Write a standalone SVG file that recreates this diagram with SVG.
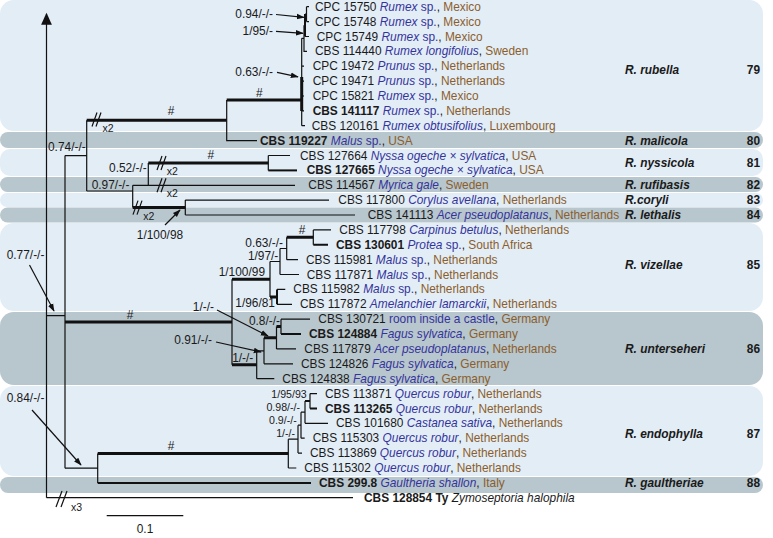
<svg xmlns="http://www.w3.org/2000/svg" width="773" height="538" viewBox="0 0 773 538">
<style>
text{font-family:"Liberation Sans",Arial,sans-serif;font-size:11.9px;fill:#1a1a1a}
.h{fill:#34349c;font-style:italic}
.hn{fill:#34349c}
.c{fill:#8b5e2c}
.b{font-weight:bold}
.z{font-style:italic}
.sp{font-weight:bold;font-style:italic}
.num{font-weight:bold;text-anchor:end}
.sm{font-size:10.5px}
.e{text-anchor:end}
.m{text-anchor:middle}
.tight{font-size:10.6px}
.bl{fill:#e3edf6}
.bd{fill:#b8c6cd}
.thin{fill:none;stroke:#111;stroke-width:1.2}
.med{fill:none;stroke:#111;stroke-width:2}
.thk{fill:none;stroke:#111;stroke-width:3}
.arr{fill:none;stroke:#111;stroke-width:1.2;marker-end:url(#ah)}
</style>
<defs>
<marker id="ah" viewBox="0 0 10 10" refX="9" refY="5" markerWidth="8" markerHeight="8" orient="auto" markerUnits="userSpaceOnUse"><path d="M0,1.5 L10,5 L0,8.5 z" fill="#111"/></marker>
<marker id="axh" viewBox="0 0 10 10" refX="9" refY="5" markerWidth="14" markerHeight="12" orient="auto" markerUnits="userSpaceOnUse"><path d="M0,0.5 L10,5 L0,9.5 z" fill="#111"/></marker>
</defs>
<g id="bands">
<rect class="bl" x="0" y="0" width="763" height="131" rx="14"/>
<rect class="bd" x="0" y="132" width="763" height="16" rx="8"/>
<rect class="bl" x="0" y="149" width="763" height="27" rx="10"/>
<rect class="bd" x="0" y="177" width="763" height="15" rx="7.5"/>
<rect class="bl" x="0" y="193" width="763" height="14" rx="7"/>
<rect class="bd" x="0" y="207.5" width="763" height="15" rx="7.5"/>
<rect class="bl" x="0" y="223" width="763" height="88" rx="14"/>
<rect class="bd" x="0" y="312" width="763" height="73" rx="14"/>
<rect class="bl" x="0" y="386" width="763" height="90" rx="14"/>
<rect class="bd" x="0" y="477" width="763" height="16" rx="8"/>
</g>
<g id="connectors">
<path class="thin" d="M46.5 497.7 V14" style="marker-end:url(#axh)"/>
<path class="thin" d="M46.5 497.7 H353 M46.5 315.7 H65 M65 155.6 V468.2 M65 155.6 H86.7 M86.7 120.3 V191 M226.7 100 V140.6 H257"/>
<path class="thin" d="M301.7 38.3 V125.7 M301.7 66.2 H304 M301.7 81.1 H304 M301.7 96 H304 M301.7 110.9 H304 M301.7 125.7 H305 M301.7 38.3 H304 M304 25.3 V51.3 H307 M304 25.3 H305 M305 36.5 H309 M305 14.1 H306.5 M306.5 6.7 V21.6 M306.5 6.7 H309 M306.5 21.6 H309"/>
<path class="thk" d="M301.7 77 V111"/>
<path class="med" d="M305 14.1 V36.5"/>
<path class="thk" d="M86.7 120.3 H226.7 M226.7 100 H301.7"/>
<path class="thin" d="M86.7 191 H132.7 M132.7 185.3 V207.6 M132.7 185.3 H295 M148.3 162.9 V185.3 M268.3 155.5 V170.4 M268.3 155.5 H290 M185.3 200.1 V215 M185.3 200.1 H329 M185.3 215 H355"/>
<path class="med" d="M268.3 170.4 H297"/>
<path class="thk" d="M148.3 162.9 H268.3 M132.7 207.6 H185.3"/>
<path class="thk" d="M65 322 H232 M232 279.2 H270 M286.7 237.3 H313.3 M270 296.9 H277 M232 364.8 H256.7 M264 337.8 H276.5 M276.5 326.6 H281"/>
<path class="thin" d="M232 279.2 V364.8 M270 261.5 V296.9 M270 261.5 H280 M280 248.5 V274.5 M280 274.5 H299 M280 248.5 H286.7 M286.7 237.3 V259.7 M286.7 259.7 H298 M313.3 229.9 V244.8 M313.3 229.9 H331 M277 289.4 H285.3 M277 304.3 H292"/>
<path class="med" d="M313.3 244.8 H328 M277 289.4 V304.3 M281 334.1 H301"/>
<path class="thin" d="M256.7 350.8 V378.7 M256.7 378.7 H274.3 M256.7 350.8 H264 M264 337.8 V363.8 M264 363.8 H293 M276.5 326.6 V348.9 M276.5 348.9 H296 M281 319.2 V334.1 M281 319.2 H310"/>
<path class="thin" d="M310 393.6 V408.5 M310 393.6 H317 M305 401 V423.3 M305 423.3 H328 M301 412.2 H305 M301 412.2 V438.2 M301 438.2 H304.7 M298 425.2 H301 M298 425.2 V453.1 M298 453.1 H302 M288.3 439.2 H298 M288.3 439.2 V468 M288.3 468 H296.3 M97.7 453.6 V482.9 M65 468.2 H97.7"/>
<path class="med" d="M310 408.5 H317 M305 401 H310 M97.7 482.9 H311"/>
<path class="thk" d="M97.7 453.6 H288.3"/>
<path class="thin" d="M92 126.5 L97 112.5 M96 126.5 L101 112.5 M157 170 L162 156 M161 170 L166 156 M157 192.3 L162 178.3 M161 192.3 L166 178.3 M133 214.6 L138 200.6 M137 214.6 L142 200.6 M56 507 L62 491 M61 507 L67 491"/>
<path class="thin" d="M106.7 515.7 H183.3"/>
<path class="arr" d="M276 14.5 L304 17.3"/>
<path class="arr" d="M276 31.3 L303 33.3"/>
<path class="arr" d="M277 72.3 L298 76.8"/>
<path class="arr" d="M165 225 L180 210"/>
<path class="arr" d="M29.5 265 L54 311"/>
<path class="arr" d="M217 310 L268 336"/>
<path class="arr" d="M216 342 L261 352"/>
<path class="arr" d="M32 410 L81 465"/>
</g>
<g id="support-labels">
<text x="273" y="18" class="e">0.94/-/-</text>
<text x="273" y="34.5" class="e">1/95/-</text>
<text x="273" y="76" class="e">0.63/-/-</text>
<text x="48" y="151">0.74/-/-</text>
<text x="146.7" y="171.7" class="e">0.52/-/-</text>
<text x="91.7" y="189">0.97/-/-</text>
<text x="160" y="239" class="m">1/100/98</text>
<text x="283" y="246.7" class="e">0.63/-/-</text>
<text x="278.3" y="260" class="e">1/97/-</text>
<text x="265" y="276.3" class="e">1/100/99</text>
<text x="275" y="307" class="e">1/96/81</text>
<text x="6.7" y="259">0.77/-/-</text>
<text x="214" y="310.5" class="e">1/-/-</text>
<text x="280" y="325" class="e">0.8/-/-</text>
<text x="212" y="344" class="e">0.91/-/-</text>
<text x="253.3" y="361.5" class="e">1/-/-</text>
<text x="306.7" y="397.5" class="e tight">1/95/93</text>
<text x="300" y="410.5" class="e tight">0.98/-/-</text>
<text x="296.7" y="423.5" class="e tight">0.9/-/-</text>
<text x="295" y="436.5" class="e tight">1/-/-</text>
<text x="6.7" y="402">0.84/-/-</text>
<text x="171" y="115" class="m">#</text>
<text x="259.3" y="97" class="m">#</text>
<text x="210.7" y="159" class="m">#</text>
<text x="302" y="234" class="m">#</text>
<text x="130" y="318.5" class="m">#</text>
<text x="171" y="450" class="m">#</text>
<text x="102.5" y="131.5" class="sm">x2</text>
<text x="166.7" y="174.5" class="sm">x2</text>
<text x="166.7" y="196.5" class="sm">x2</text>
<text x="143.3" y="220" class="sm">x2</text>
<text x="71" y="511" class="sm">x3</text>
<text x="145" y="533" class="m">0.1</text>
</g>
<g id="leaf-CPC15750"><text x="315" y="10.7">CPC 15750 <tspan class="h">Rumex</tspan><tspan class="hn"> sp.</tspan>, <tspan class="c">Mexico</tspan></text></g>
<g id="leaf-CPC15748"><text x="315" y="25.6">CPC 15748 <tspan class="h">Rumex</tspan><tspan class="hn"> sp.</tspan>, <tspan class="c">Mexico</tspan></text></g>
<g id="leaf-CPC15749"><text x="316.7" y="40.5">CPC 15749 <tspan class="h">Rumex</tspan><tspan class="hn"> sp.</tspan>, <tspan class="c">Mexico</tspan></text></g>
<g id="leaf-CBS114440"><text x="315" y="55.3">CBS 114440 <tspan class="h">Rumex longifolius</tspan>, <tspan class="c">Sweden</tspan></text></g>
<g id="leaf-CPC19472"><text x="312.7" y="70.2">CPC 19472 <tspan class="h">Prunus</tspan><tspan class="hn"> sp.</tspan>, <tspan class="c">Netherlands</tspan></text></g>
<g id="leaf-CPC19471"><text x="312.7" y="85.1">CPC 19471 <tspan class="h">Prunus</tspan><tspan class="hn"> sp.</tspan>, <tspan class="c">Netherlands</tspan></text></g>
<g id="leaf-CPC15821"><text x="312.7" y="100">CPC 15821 <tspan class="h">Rumex</tspan><tspan class="hn"> sp.</tspan>, <tspan class="c">Mexico</tspan></text></g>
<g id="leaf-CBS141117"><text x="312.7" y="114.9"><tspan class="b">CBS 141117</tspan> <tspan class="h">Rumex</tspan><tspan class="hn"> sp.</tspan>, <tspan class="c">Netherlands</tspan></text></g>
<g id="leaf-CBS120161"><text x="311.7" y="129.7">CBS 120161 <tspan class="h">Rumex obtusifolius</tspan>, <tspan class="c">Luxembourg</tspan></text></g>
<g id="leaf-CBS119227"><text x="260" y="144.6"><tspan class="b">CBS 119227</tspan> <tspan class="h">Malus</tspan><tspan class="hn"> sp.</tspan>, <tspan class="c">USA</tspan></text></g>
<g id="leaf-CBS127664"><text x="300" y="159.5">CBS 127664 <tspan class="h">Nyssa ogeche × sylvatica</tspan>, <tspan class="c">USA</tspan></text></g>
<g id="leaf-CBS127665"><text x="306.7" y="174.4"><tspan class="b">CBS 127665</tspan> <tspan class="h">Nyssa ogeche × sylvatica</tspan>, <tspan class="c">USA</tspan></text></g>
<g id="leaf-CBS114567"><text x="308.3" y="189.3">CBS 114567 <tspan class="h">Myrica gale</tspan>, <tspan class="c">Sweden</tspan></text></g>
<g id="leaf-CBS117800"><text x="338.3" y="204.1">CBS 117800 <tspan class="h">Corylus avellana</tspan>, <tspan class="c">Netherlands</tspan></text></g>
<g id="leaf-CBS141113"><text x="367.7" y="219">CBS 141113 <tspan class="h">Acer pseudoplatanus</tspan>, <tspan class="c">Netherlands</tspan></text></g>
<g id="leaf-CBS117798"><text x="339.3" y="233.9">CBS 117798 <tspan class="h">Carpinus betulus</tspan>, <tspan class="c">Netherlands</tspan></text></g>
<g id="leaf-CBS130601"><text x="336" y="248.8"><tspan class="b">CBS 130601</tspan> <tspan class="h">Protea</tspan><tspan class="hn"> sp.</tspan>, <tspan class="c">South Africa</tspan></text></g>
<g id="leaf-CBS115981"><text x="306" y="263.7">CBS 115981 <tspan class="h">Malus</tspan><tspan class="hn"> sp.</tspan>, <tspan class="c">Netherlands</tspan></text></g>
<g id="leaf-CBS117871"><text x="306.7" y="278.5">CBS 117871 <tspan class="h">Malus</tspan><tspan class="hn"> sp.</tspan>, <tspan class="c">Netherlands</tspan></text></g>
<g id="leaf-CBS115982"><text x="293.3" y="293.4">CBS 115982 <tspan class="h">Malus</tspan><tspan class="hn"> sp.</tspan>, <tspan class="c">Netherlands</tspan></text></g>
<g id="leaf-CBS117872"><text x="300" y="308.3">CBS 117872 <tspan class="h">Amelanchier lamarckii</tspan>, <tspan class="c">Netherlands</tspan></text></g>
<g id="leaf-CBS130721"><text x="318.3" y="323.2">CBS 130721 <tspan class="hn">room inside a castle</tspan>, <tspan class="c">Germany</tspan></text></g>
<g id="leaf-CBS124884"><text x="309" y="338.1"><tspan class="b">CBS 124884</tspan> <tspan class="h">Fagus sylvatica</tspan>, <tspan class="c">Germany</tspan></text></g>
<g id="leaf-CBS117879"><text x="304.3" y="352.9">CBS 117879 <tspan class="h">Acer pseudoplatanus</tspan>, <tspan class="c">Netherlands</tspan></text></g>
<g id="leaf-CBS124826"><text x="301" y="367.8">CBS 124826 <tspan class="h">Fagus sylvatica</tspan>, <tspan class="c">Germany</tspan></text></g>
<g id="leaf-CBS124838"><text x="282.3" y="382.7">CBS 124838 <tspan class="h">Fagus sylvatica</tspan>, <tspan class="c">Germany</tspan></text></g>
<g id="leaf-CBS113871"><text x="325" y="397.6">CBS 113871 <tspan class="h">Quercus robur</tspan>, <tspan class="c">Netherlands</tspan></text></g>
<g id="leaf-CBS113265"><text x="325" y="412.5"><tspan class="b">CBS 113265</tspan> <tspan class="h">Quercus robur</tspan>, <tspan class="c">Netherlands</tspan></text></g>
<g id="leaf-CBS101680"><text x="336" y="427.3">CBS 101680 <tspan class="h">Castanea sativa</tspan>, <tspan class="c">Netherlands</tspan></text></g>
<g id="leaf-CBS115303"><text x="312.7" y="442.2">CBS 115303 <tspan class="h">Quercus robur</tspan>, <tspan class="c">Netherlands</tspan></text></g>
<g id="leaf-CBS113869"><text x="310" y="457.1">CBS 113869 <tspan class="h">Quercus robur</tspan>, <tspan class="c">Netherlands</tspan></text></g>
<g id="leaf-CBS115302"><text x="304.3" y="472">CBS 115302 <tspan class="h">Quercus robur</tspan>, <tspan class="c">Netherlands</tspan></text></g>
<g id="leaf-CBS299.8"><text x="319" y="486.9"><tspan class="b">CBS 299.8</tspan> <tspan class="h">Gaultheria shallon</tspan>, <tspan class="c">Italy</tspan></text></g>
<g id="leaf-CBS128854"><text x="364" y="501.8"><tspan class="b">CBS 128854 Ty</tspan> <tspan class="z">Zymoseptoria halophila</tspan></text></g>
<g id="clade-79"><text x="625" y="73.5" class="sp">R. rubella</text><text x="760" y="73.5" class="num">79</text></g>
<g id="clade-80"><text x="625" y="144.6" class="sp">R. malicola</text><text x="760" y="144.6" class="num">80</text></g>
<g id="clade-81"><text x="625" y="167" class="sp">R. nyssicola</text><text x="760" y="167" class="num">81</text></g>
<g id="clade-82"><text x="625" y="189.3" class="sp">R. rufibasis</text><text x="760" y="189.3" class="num">82</text></g>
<g id="clade-83"><text x="625" y="204.1" class="sp">R.coryli</text><text x="760" y="204.1" class="num">83</text></g>
<g id="clade-84"><text x="625" y="219" class="sp">R. lethalis</text><text x="760" y="219" class="num">84</text></g>
<g id="clade-85"><text x="625" y="269" class="sp">R. vizellae</text><text x="760" y="269" class="num">85</text></g>
<g id="clade-86"><text x="625" y="353" class="sp">R. unterseheri</text><text x="760" y="353" class="num">86</text></g>
<g id="clade-87"><text x="625" y="438.3" class="sp">R. endophylla</text><text x="760" y="438.3" class="num">87</text></g>
<g id="clade-88"><text x="625" y="486.9" class="sp">R. gaultheriae</text><text x="760" y="486.9" class="num">88</text></g>
</svg>
